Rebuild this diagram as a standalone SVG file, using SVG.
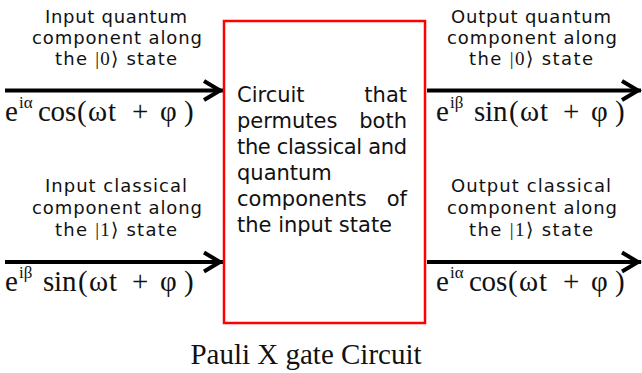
<svg xmlns="http://www.w3.org/2000/svg" width="642" height="373" viewBox="0 0 642 373">
<style>
.lbl{font-family:"DejaVu Sans","Liberation Sans",sans-serif;font-size:18px;fill:#111;text-anchor:middle}
.ket{font-family:"Liberation Serif","DejaVu Serif","DejaVu Sans",serif;font-size:19px}
.fm{font-family:"Liberation Serif","DejaVu Serif",serif;font-size:29px;fill:#111}
.sup{font-family:"Liberation Serif","DejaVu Serif",serif;font-size:17px;fill:#111}
.body{font-family:"DejaVu Sans","Liberation Sans",sans-serif;font-size:21px;fill:#111}
.title{font-family:"Liberation Serif","Times New Roman",serif;font-size:29px;fill:#111;text-anchor:middle}
.wire{stroke:#000;stroke-width:4;fill:none}
</style>
<defs>
<marker id="arr" markerUnits="userSpaceOnUse" markerWidth="30" markerHeight="30" viewBox="-25 -15 30 30" refX="0" refY="0" orient="auto" overflow="visible">
<path d="M-19,-9.5 L-3,0 L-19,9.5" fill="none" stroke="#000" stroke-width="4"/>
</marker>
</defs>

<g id="connectors">
<line class="wire" x1="5" y1="90.5" x2="223" y2="90.5" marker-end="url(#arr)"/>
<line class="wire" x1="5" y1="262" x2="223" y2="262" marker-end="url(#arr)"/>
<line class="wire" x1="427" y1="90.5" x2="641" y2="90.5" marker-end="url(#arr)"/>
<line class="wire" x1="427" y1="262" x2="641" y2="262" marker-end="url(#arr)"/>
</g>

<g id="circuit">
<rect x="224" y="21" width="201" height="302" fill="#fff" stroke="#f00" stroke-width="2.5"/>
<text class="body" x="237" y="102">Circuit</text>
<text class="body" x="407" y="102" text-anchor="end">that</text>
<text class="body" x="237" y="128">permutes</text>
<text class="body" x="407" y="128" text-anchor="end">both</text>
<text class="body" x="237" y="154" textLength="170">the classical and</text>
<text class="body" x="237" y="180">quantum</text>
<text class="body" x="237" y="206">components</text>
<text class="body" x="407" y="206" text-anchor="end">of</text>
<text class="body" x="237" y="232">the input state</text>
</g>

<g id="input-quantum">
<text class="lbl" x="116" y="23" textLength="142">Input quantum</text>
<text class="lbl" x="117" y="44" textLength="170">component along</text>
<text class="lbl" x="116" y="65" textLength="122">the <tspan class="ket">|0⟩</tspan> state</text>
<text class="fm" x="5" y="121">e</text>
<text class="sup" x="19" y="108">iα</text>
<text class="fm" x="38 50.5 65 77 88 108 118 132 150 160 184" y="121">cos(ωt + φ)</text>
</g>

<g id="input-classical">
<text class="lbl" x="116" y="192" textLength="142">Input classical</text>
<text class="lbl" x="117" y="214" textLength="170">component along</text>
<text class="lbl" x="116" y="236" textLength="122">the <tspan class="ket">|1⟩</tspan> state</text>
<text class="fm" x="5" y="291">e</text>
<text class="sup" x="19" y="278">iβ</text>
<text class="fm" x="43 54 62 78 89 109 118 132 150 160 184" y="291">sin(ωt + φ)</text>
</g>

<g id="output-quantum">
<text class="lbl" x="531" y="23" textLength="160">Output quantum</text>
<text class="lbl" x="532" y="44" textLength="170">component along</text>
<text class="lbl" x="531" y="65" textLength="124">the <tspan class="ket">|0⟩</tspan> state</text>
<text class="fm" x="436" y="121">e</text>
<text class="sup" x="450" y="108">iβ</text>
<text class="fm" x="474 485 493 509 520 540 549 563 581 591 615" y="121">sin(ωt + φ)</text>
</g>

<g id="output-classical">
<text class="lbl" x="531" y="192" textLength="160">Output classical</text>
<text class="lbl" x="532" y="214" textLength="170">component along</text>
<text class="lbl" x="531" y="236" textLength="124">the <tspan class="ket">|1⟩</tspan> state</text>
<text class="fm" x="436" y="291">e</text>
<text class="sup" x="450" y="278">iα</text>
<text class="fm" x="469 481.5 496 508 519 539 549 563 581 591 615" y="291">cos(ωt + φ)</text>
</g>

<g id="caption">
<text class="title" x="306" y="364">Pauli X gate Circuit</text>
</g>
</svg>
